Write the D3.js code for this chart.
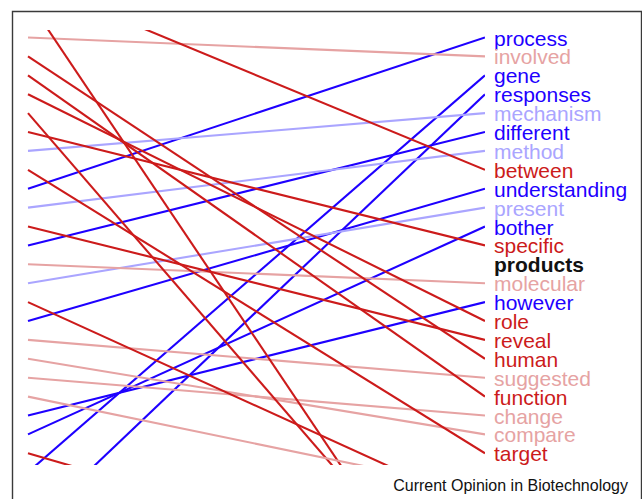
<!DOCTYPE html>
<html>
<head>
<meta charset="utf-8">
<script src="https://cdn.jsdelivr.net/npm/d3@7"></script>
<style>
    body { margin: 0; background: #fff; }
    svg { display: block; font-family: "Liberation Sans", Arial, sans-serif; }
</style>
</head>
<body>
<div id="rank-vis"></div>
<script>

/* * * * * * * * * * * * * *
*        RankSlopeVis       *
* * * * * * * * * * * * * */

// words on the right, top to bottom (rank 0 .. 22)
let rightWords = ["process", "involved", "gene", "responses", "mechanism", "different", "method",
    "between", "understanding", "present", "bother", "specific", "products", "molecular",
    "however", "role", "reveal", "human", "suggested", "function", "change", "compare", "target"];

// rank each of those words had on the left side (null = not in left list)
let leftRanks = [8, 0, 23, 26, 6, 11, 9, -3, 15, 13, 21, 5, null, 12, 20, 3, 10, 1, 16, 2, 18, 17, 7];

// left words that fell out of the shown right list
let droppedLeft = [-2, 4, 14, 19, 22];
let droppedRight = [34, 32, 25, 24, 29];

let highlightWord = "products";
let caption = "Current Opinion in Biotechnology";


class RankSlopeVis {

    constructor(parentElement){
        this.parentElement = parentElement;
        this.width = 642;
        this.height = 499;
        this.initVis();
    }

    initVis(){
        let vis = this;

        vis.svg = d3.select("#" + vis.parentElement).append("svg")
            .attr("width", vis.width)
            .attr("height", vis.height);

        // frame
        vis.svg.append("path")
            .attr("d", "M12.5,510 V11.5 H641.5 V510")
            .attr("fill", "none")
            .attr("stroke", "#3a3a3a")
            .attr("stroke-width", 1.4);

        vis.x = d3.scaleLinear().domain([0, 1]).range([28, 485]);
        vis.y = d3.scaleLinear().domain([0, 22]).range([37.5, 453.3]);

        // up = blue, small up = light blue, small down = pink, down = red
        vis.colorScale = d3.scaleThreshold()
            .domain([-5.5, 0, 5.5])
            .range(["#1e00ff", "#aaa5ff", "#e6a3a3", "#cc1b1b"]);

        vis.svg.append("clipPath")
            .attr("id", "plot-clip")
            .append("rect")
            .attr("x", 20)
            .attr("y", 30)
            .attr("width", 465)
            .attr("height", 435);

        vis.lineGroup = vis.svg.append("g")
            .attr("clip-path", "url(#plot-clip)");

        vis.labelGroup = vis.svg.append("g");

        vis.svg.append("text")
            .attr("x", 628)
            .attr("y", 491)
            .attr("text-anchor", "end")
            .style("font-size", "16px")
            .style("fill", "#111")
            .text(caption);

        vis.wrangleData();
    }

    wrangleData(){
        let vis = this;

        vis.displayData = [];
        rightWords.forEach((w, i) => {
            vis.displayData.push({word: w, left: leftRanks[i], right: i});
        });
        droppedLeft.forEach((l, i) => {
            vis.displayData.push({word: null, left: l, right: droppedRight[i]});
        });

        vis.updateVis();
    }

    updateVis(){
        let vis = this;

        let withLine = vis.displayData.filter(d => d.left !== null);

        vis.lineGroup.selectAll("line.rank")
            .data(withLine)
            .enter().append("line")
            .attr("class", "rank")
            .attr("x1", vis.x(0))
            .attr("y1", d => vis.y(d.left))
            .attr("x2", vis.x(1))
            .attr("y2", d => vis.y(d.right))
            .attr("stroke", d => vis.colorScale(d.right - d.left))
            .attr("stroke-width", 2.1);

        vis.labelGroup.selectAll("text.word")
            .data(vis.displayData.filter(d => d.word !== null))
            .enter().append("text")
            .attr("class", "word")
            .attr("x", vis.x(1) + 9)
            .attr("y", d => vis.y(d.right) + 8)
            .style("font-size", "21px")
            .style("font-weight", d => d.word === highlightWord ? "bold" : "normal")
            .style("fill", d => d.word === highlightWord ? "#111" : vis.colorScale(d.right - d.left))
            .text(d => d.word);
    }
}

let rankVis = new RankSlopeVis("rank-vis");

</script>
</body>
</html>
